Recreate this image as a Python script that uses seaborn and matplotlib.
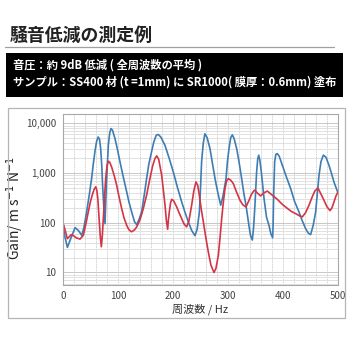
import numpy as np
import pandas as pd
import matplotlib
matplotlib.use("Agg")
import matplotlib.pyplot as plt
import matplotlib.ticker as mticker
from matplotlib.patches import Rectangle
from matplotlib.lines import Line2D
import seaborn as sns

# ==============================
# DATA
# ==============================

title = "騒音低減の測定例"
note1 = "音圧：約 9dB 低減 ( 全周波数の平均 )"
note2 = "サンプル：SS400 材 (t =1mm) に SR1000( 膜厚：0.6mm) 塗布"

# untreated plate (blue)
blue_hz = [0, 3, 8, 14, 22, 28, 34, 38, 43, 48, 52, 55, 58, 61, 64, 66.5, 68.5, 70.5,
           72, 74, 76.4, 77.5, 79.4, 81, 82.4, 85, 87.3, 90, 94.5, 99, 103.6, 110,
           115.8, 120, 124.8, 130, 134, 138, 143, 148, 152, 156, 161, 165, 169.5,
           173.3, 178, 185.5, 193, 200.6, 208, 215.8, 222, 228, 234, 240, 244, 248,
           250, 252, 255, 258, 262, 267.3, 272, 276.4, 281, 286.7, 291, 296.4, 299,
           301.8, 305, 307.9, 311, 315.8, 320, 324.8, 329, 332.7, 338, 341, 344.2,
           346.5, 349, 352, 354, 355.8, 358, 360.6, 365.5, 370, 374.5, 378, 381.2,
           382, 383, 384.8, 387, 389.7, 393, 398.8, 406, 414, 421, 429, 435, 441.2,
           446, 450.3, 455, 459.4, 462, 465.5, 469, 473.3, 478, 483.6, 488, 492.7, 500]
blue_gain = [90, 55, 32, 48, 80, 70, 56, 80, 166, 380, 776, 1500, 2690, 4300, 5340, 4800,
             3100, 1400, 570, 230, 96, 220, 776, 1800, 3630, 6500, 7900, 7300, 4950,
             3000, 1690, 800, 420, 260, 166, 105, 92, 115, 166, 380, 776, 1500, 2690,
             4200, 5800, 6000, 5300, 3600, 2000, 1050, 520, 263, 160, 104, 70, 55, 75,
             166, 500, 1690, 4000, 6200, 5200, 3100, 1500, 776, 430, 226, 350, 776,
             1700, 3100, 5200, 5900, 5000, 3100, 1700, 776, 380, 226, 89, 55, 45, 80,
             226, 1050, 1900, 2300, 1800, 1050, 310, 130, 89, 60, 50, 90, 357, 1690,
             2400, 2470, 2200, 1440, 850, 485, 270, 166, 110, 76, 62, 58, 90, 166, 350,
             910, 1700, 2300, 2100, 1440, 1000, 660, 400]

# SR1000 coated plate (red)
red_hz = [0, 4, 7.9, 11, 15, 19, 24, 30.9, 37, 42, 46, 50, 53, 56.5, 59.6, 61.5, 63.3,
          66, 68, 69.7, 71.5, 73.3, 75.5, 77.6, 80, 82.4, 85, 88.5, 93, 97.6, 102,
          106.7, 111, 115.8, 120, 124.8, 130, 134, 140, 146, 152, 158, 163, 167,
          170.3, 174, 179.4, 182.5, 185.5, 188, 190.3, 191.5, 193.3, 195.5, 197.6,
          201, 206.7, 211, 215.8, 220, 224.8, 229, 233.9, 238, 241.8, 245, 247.9,
          251, 255.2, 260, 264.2, 269, 274.5, 278, 282.4, 285.5, 288.5, 291.5, 294.5,
          297.5, 300.6, 305, 309.7, 315, 321.8, 327, 332.7, 338, 343, 347, 349, 353,
          359.4, 365, 371.5, 378, 389.7, 398, 407.9, 415, 423, 430, 435.2, 441, 447.3,
          453, 458, 463.6, 469, 474.5, 480, 485.5, 489, 492.7, 496, 500]
red_gain = [100, 70, 48, 52, 58, 55, 50, 47, 56, 100, 166, 270, 357, 470, 530, 450, 306,
            104, 50, 33, 55, 121, 330, 776, 1400, 1740, 1650, 1320, 900, 570, 330, 193,
            125, 89, 72, 66, 72, 83, 115, 193, 360, 776, 1400, 1950, 2230, 1900, 910,
            450, 226, 110, 74, 110, 166, 250, 297, 280, 209, 160, 121, 95, 83, 110, 226,
            450, 665, 560, 357, 200, 104, 48, 26, 14, 10, 12, 22, 50, 121, 260, 485, 700,
            776, 720, 615, 430, 284, 230, 209, 280, 380, 440, 455, 400, 348, 400, 435,
            380, 297, 240, 195, 170, 153, 138, 132, 160, 226, 330, 440, 500, 380, 284,
            210, 176, 200, 263, 340, 420]

y_ticks = [10, 100, 1000, 10000]
y_tick_labels = ["10", "100", "1,000", "10,000"]
x_ticks = [0, 100, 200, 300, 400, 500]

df_blue = pd.DataFrame({"Hz": blue_hz, "Gain": blue_gain})
df_red = pd.DataFrame({"Hz": red_hz, "Gain": red_gain})

# ==============================
# STYLE
# ==============================

sns.set_style("white")
plt.rcParams["font.family"] = ["Noto Sans CJK JP", "DejaVu Sans"]

BLUE = "#3d7db3"
RED = "#d43445"

fig = plt.figure(figsize=(3.5, 3.5), dpi=100)

# title + underline
fig.text(10 / 350, 1 - 36 / 350, title, fontsize=12.9, fontweight="bold",
         va="center", ha="left", color="#222222")
fig.add_artist(Line2D([5 / 350, 334 / 350], [1 - 46.5 / 350, 1 - 46.5 / 350],
                      color="#a0a0a0", lw=0.9))

# black info box
fig.add_artist(Rectangle((6 / 350, 1 - 97 / 350), 337 / 350, 44 / 350,
                         facecolor="black", edgecolor="none"))
fig.text(13 / 350, 1 - 65 / 350, note1, fontsize=8.1, fontweight="bold",
         color="white", va="center", ha="left")
fig.text(13 / 350, 1 - 82 / 350, note2, fontsize=8.1, fontweight="bold",
         color="white", va="center", ha="left")

# chart frame
fig.add_artist(Rectangle((8 / 350, 1 - 318 / 350), 337 / 350, 210 / 350,
                         facecolor="none", edgecolor="#b5b5b5", lw=0.9))

ax = fig.add_axes([63 / 350, 1 - 285 / 350, 275 / 350, 171 / 350])

sns.lineplot(data=df_blue, x="Hz", y="Gain", ax=ax, color=BLUE, lw=1.2,
             estimator=None, sort=False)
sns.lineplot(data=df_red, x="Hz", y="Gain", ax=ax, color=RED, lw=1.2,
             estimator=None, sort=False)

ax.set_yscale("log")
ax.set_xlim(0, 500)
ax.set_ylim(5.6, 15500)

ax.yaxis.set_major_locator(mticker.FixedLocator(y_ticks))
ax.yaxis.set_major_formatter(mticker.FixedFormatter(y_tick_labels))
ax.yaxis.set_minor_locator(mticker.LogLocator(base=10, subs=np.arange(2, 10)))
ax.yaxis.set_minor_formatter(mticker.NullFormatter())
ax.xaxis.set_major_locator(mticker.FixedLocator(x_ticks))
ax.xaxis.set_minor_locator(mticker.MultipleLocator(20))

ax.grid(which="major", axis="y", color="#c8c8c8", lw=0.7)
ax.grid(which="minor", axis="y", color="#dcdcdc", lw=0.6)
ax.grid(which="both", axis="x", color="#cfcfcf", lw=0.6, linestyle=(0, (2, 1)))
ax.set_axisbelow(True)

ax.tick_params(which="both", length=0)
ax.tick_params(axis="y", labelsize=7, pad=5, colors="#444444")
ax.tick_params(axis="x", labelsize=7, pad=4, colors="#444444")

for s in ax.spines.values():
    s.set_color("#a8a8a8")
    s.set_linewidth(0.8)

ax.set_xlabel("周波数 / Hz", fontsize=8, color="#333333", labelpad=2)
ax.set_ylabel("Gain/ m s$^{-1}$ N$^{-1}$", fontsize=10, color="#222222")
ax.yaxis.set_label_coords(-0.135, 0.45)

fig.savefig("out.png", dpi=100, facecolor="white")
